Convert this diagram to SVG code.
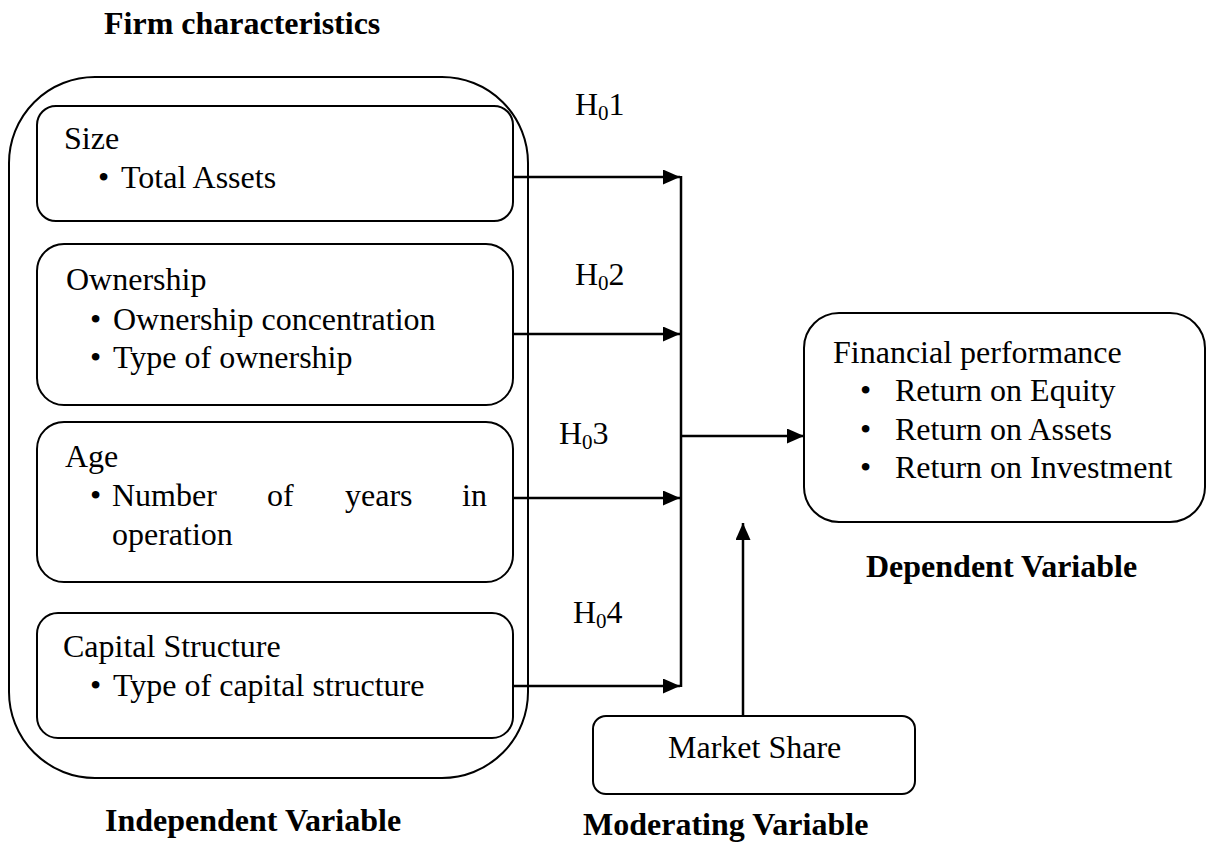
<svg xmlns="http://www.w3.org/2000/svg" width="1206" height="844" viewBox="0 0 1206 844">
  <style>
    .box { fill: none; stroke: #000; stroke-width: 2; }
    .t { font-family: "Liberation Serif", "Times New Roman", serif; font-size: 32px; fill: #000; }
    .b { font-family: "Liberation Serif", "Times New Roman", serif; font-size: 32px; font-weight: bold; fill: #000; }
    .sub { font-size: 21px; }
    .conn { fill: none; stroke: #000; stroke-width: 2.5; }
  </style>
  <defs>
    <marker id="arrow" viewBox="0 0 17 15" refX="17" refY="7.5" markerWidth="17" markerHeight="15" markerUnits="userSpaceOnUse" orient="auto">
      <path d="M0,0 L17,7.5 L0,15 Z" fill="#000"/>
    </marker>
  </defs>
  <rect width="1206" height="844" fill="#fff"/>

  <text class="b" x="104" y="34">Firm characteristics</text>

  <g id="independent">
    <rect class="box" x="9" y="77" width="519" height="701" rx="86" ry="86"/>
    <text class="b" x="105" y="831">Independent Variable</text>
  </g>

  <g id="size">
    <rect class="box" x="37" y="106" width="476" height="115" rx="19" ry="19"/>
    <text class="t" x="64" y="149">Size</text>
    <text class="t" x="98" y="188">•</text>
    <text class="t" x="121" y="188">Total Assets</text>
  </g>

  <g id="ownership">
    <rect class="box" x="37" y="244" width="476" height="161" rx="27" ry="27"/>
    <text class="t" x="66" y="290">Ownership</text>
    <text class="t" x="90" y="330">•</text>
    <text class="t" x="113" y="330">Ownership concentration</text>
    <text class="t" x="90" y="368">•</text>
    <text class="t" x="113" y="368">Type of ownership</text>
  </g>

  <g id="age">
    <rect class="box" x="37" y="422" width="476" height="160" rx="27" ry="27"/>
    <text class="t" x="65" y="467">Age</text>
    <text class="t" x="90" y="506">•</text>
    <text class="t" y="506"><tspan x="112">Number</tspan><tspan x="267">of</tspan><tspan x="345">years</tspan><tspan x="462">in</tspan></text>
    <text class="t" x="112" y="545">operation</text>
  </g>

  <g id="capital">
    <rect class="box" x="37" y="613" width="476" height="125" rx="21" ry="21"/>
    <text class="t" x="63" y="657">Capital Structure</text>
    <text class="t" x="90" y="696">•</text>
    <text class="t" x="113" y="696">Type of capital structure</text>
  </g>

  <g id="financial">
    <rect class="box" x="804" y="313" width="401" height="209" rx="35" ry="35"/>
    <text class="t" x="833" y="363">Financial performance</text>
    <text class="t" x="860" y="401">•</text>
    <text class="t" x="895" y="401">Return on Equity</text>
    <text class="t" x="860" y="440">•</text>
    <text class="t" x="895" y="440">Return on Assets</text>
    <text class="t" x="860" y="478">•</text>
    <text class="t" x="895" y="478">Return on Investment</text>
    <text class="b" x="866" y="577">Dependent Variable</text>
  </g>

  <g id="market">
    <rect class="box" x="593" y="716" width="322" height="78" rx="13" ry="13"/>
    <text class="t" x="668" y="758">Market Share</text>
    <text class="b" x="583" y="835">Moderating Variable</text>
  </g>

  <g id="labels">
    <text class="t" x="575" y="115">H<tspan class="sub" dy="5">0</tspan><tspan dy="-5">1</tspan></text>
    <text class="t" x="575" y="285">H<tspan class="sub" dy="5">0</tspan><tspan dy="-5">2</tspan></text>
    <text class="t" x="559" y="444">H<tspan class="sub" dy="5">0</tspan><tspan dy="-5">3</tspan></text>
    <text class="t" x="573" y="623">H<tspan class="sub" dy="5">0</tspan><tspan dy="-5">4</tspan></text>
  </g>

  <g id="connectors">
    <line class="conn" x1="513" y1="177" x2="680" y2="177" marker-end="url(#arrow)"/>
    <line class="conn" x1="513" y1="334" x2="680" y2="334" marker-end="url(#arrow)"/>
    <line class="conn" x1="513" y1="498" x2="680" y2="498" marker-end="url(#arrow)"/>
    <line class="conn" x1="513" y1="686" x2="680" y2="686" marker-end="url(#arrow)"/>
    <line class="conn" x1="681" y1="176" x2="681" y2="687" stroke-width="2"/>
    <line class="conn" x1="681" y1="436" x2="804" y2="436" marker-end="url(#arrow)"/>
    <line class="conn" x1="743" y1="716" x2="743" y2="523" marker-end="url(#arrow)"/>
  </g>
</svg>
